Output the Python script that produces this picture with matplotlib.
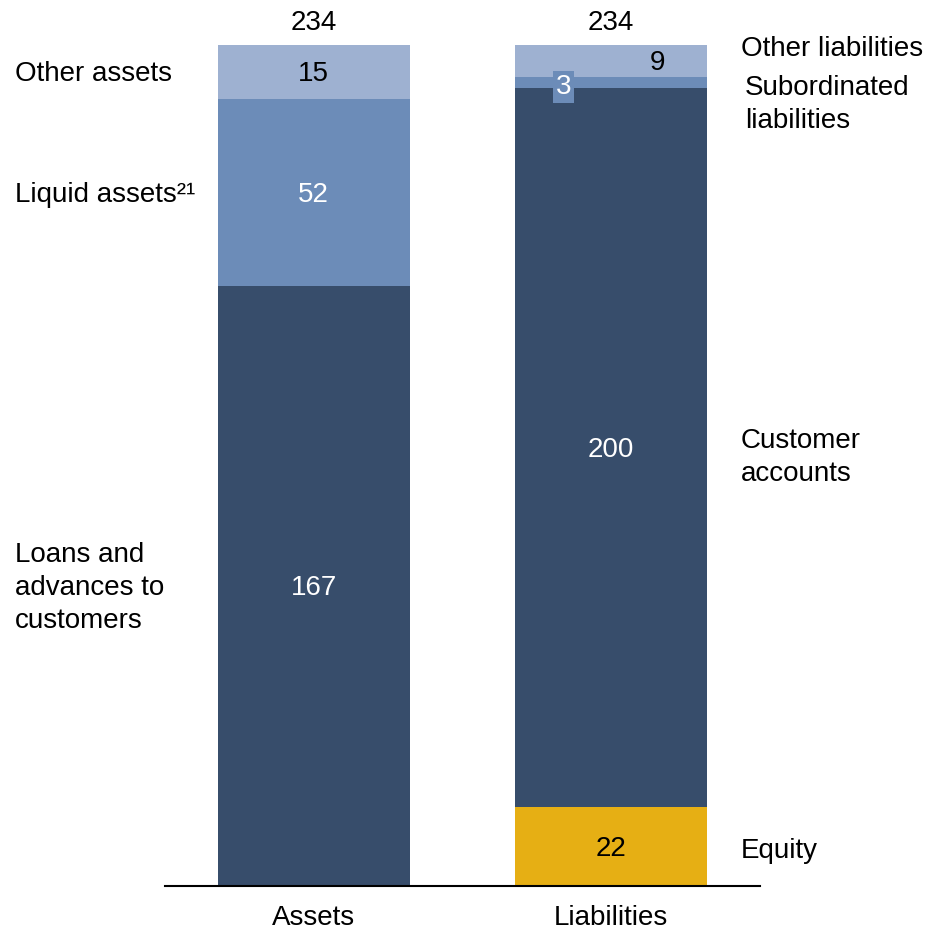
import numpy as np
import matplotlib
matplotlib.use("Agg")
import matplotlib.pyplot as plt
import matplotlib.transforms as mtransforms

plt.rcParams['font.family'] = ['Liberation Sans', 'DejaVu Sans']

categories = ['Assets', 'Liabilities']
totals = [234, 234]

# assets, bottom to top
asset_names = ['Loans and\nadvances to\ncustomers', 'Liquid assets\u00b2\u00b9', 'Other assets']
asset_vals = [167, 52, 15]
# liabilities, bottom to top
liab_names = ['Equity', 'Customer\naccounts', 'Subordinated\nliabilities', 'Other liabilities']
liab_vals = [22, 200, 3, 9]

dark = '#374d6b'
mid = '#6c8cb8'
light = '#9eb1d1'
gold = '#e6af14'
asset_cols = [dark, mid, light]
liab_cols = [gold, dark, mid, light]

fig = plt.figure(figsize=(9.3, 9.3), dpi=100)
ax = fig.add_axes([0.1774, 0.0473, 0.6398, 0.9043])
w = 0.644
fs = 20
ls = 1.35
# text sits a touch lower than its anchor
tr = mtransforms.offset_copy(ax.transData, fig=fig, x=0, y=-2.5, units='dots')

bottom = 0
for v, c in zip(asset_vals, asset_cols):
    ax.bar(0, v, w, bottom=bottom, color=c, linewidth=0)
    bottom += v
bottom = 0
for v, c in zip(liab_vals, liab_cols):
    ax.bar(1, v, w, bottom=bottom, color=c, linewidth=0)
    bottom += v

cum = np.cumsum([0] + asset_vals)
mida = (cum[:-1] + cum[1:]) / 2
cuml = np.cumsum([0] + liab_vals)
midl = (cuml[:-1] + cuml[1:]) / 2

# values inside assets
val_cols = ['white', 'white', 'black']
for i, v in enumerate(asset_vals):
    ax.text(0, mida[i], str(v), ha='center', va='center', fontsize=fs,
            color=val_cols[i], transform=tr)

# values inside liabilities
ax.text(1, midl[0], str(liab_vals[0]), ha='center', va='center', fontsize=fs,
        color='black', transform=tr)
ax.text(1, midl[1], str(liab_vals[1]), ha='center', va='center', fontsize=fs,
        color='white', transform=tr)
ax.text(0.84, cuml[2] + 1.0, str(liab_vals[2]), ha='center', va='center', fontsize=fs,
        color='white', transform=tr,
        bbox=dict(boxstyle='square,pad=0.1', fc=mid, ec='none'))
ax.text(1.155, midl[3] + 0.2, str(liab_vals[3]), ha='center', va='center', fontsize=fs,
        color='black', transform=tr)

# totals on top
for i, t in enumerate(totals):
    ax.text(i, t + 2.4, str(t), ha='center', va='bottom', fontsize=fs, clip_on=False)

# left labels
for i, name in enumerate(asset_names):
    ax.text(-1.003, mida[i], name, ha='left', va='center', fontsize=fs,
            linespacing=ls, clip_on=False, transform=tr)

# right labels
liab_y = [midl[0] - 0.5, midl[1] - 2, 218.2, 233.7]
liab_x = [1.436, 1.436, 1.45, 1.436]
for name, y, x in zip(liab_names, liab_y, liab_x):
    ax.text(x, y, name, ha='left', va='center', fontsize=fs,
            linespacing=ls, clip_on=False, transform=tr)

ax.set_xlim(-0.5, 1.5)
ax.set_ylim(0, 234)
ax.set_xticks([0, 1])
ax.set_xticklabels(categories, fontsize=fs)
ax.tick_params(axis='x', length=0, pad=13.5)
ax.set_yticks([])
for s in ['top', 'right', 'left']:
    ax.spines[s].set_visible(False)
ax.spines['bottom'].set_linewidth(1.5)

fig.savefig('out.png', dpi=100)
